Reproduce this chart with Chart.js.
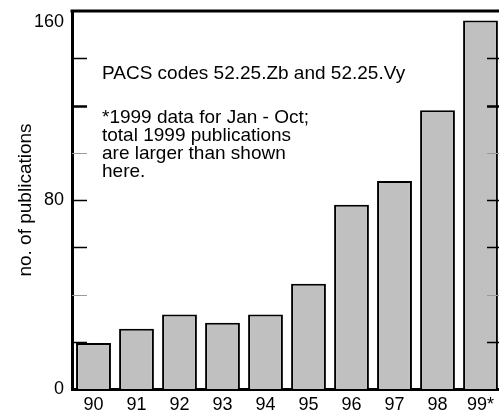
<!DOCTYPE html>
<html>
<head>
<meta charset="utf-8">
<script src="https://cdn.jsdelivr.net/npm/chart.js@4/dist/chart.umd.min.js"></script>
<style>
  html, body { margin: 0; padding: 0; background: #fff; overflow: hidden; }
  #wrap { width: 505px; height: 413px; }
</style>
</head>
<body>
<div id="wrap"><canvas id="c" width="505" height="413"></canvas></div>
<script>
const categories = ['90', '91', '92', '93', '94', '95', '96', '97', '98', '99*'];
const publications = [19.5, 25.5, 31.5, 28, 31.5, 44.5, 78, 88, 118, 156];
const yLabelValues = [0, 80, 160];
const minorTickValues = [20, 40, 60, 80, 100, 120, 140];
const yTitle = 'no. of publications';
const noteTitle = 'PACS codes 52.25.Zb and 52.25.Vy';
const noteLines = ['*1999 data for Jan - Oct;', 'total 1999 publications', 'are larger than shown', 'here.'];

const FONT = '"Liberation Sans", Arial, Helvetica, sans-serif';

const decorPlugin = {
  id: 'decor',
  afterDatasetsDraw(chart) {
    const { ctx, chartArea } = chart;
    const y = chart.scales.y;
    ctx.save();
    ctx.strokeStyle = '#000';
    ctx.lineWidth = 3;
    ctx.beginPath();
    ctx.moveTo(chartArea.left - 1.5, chartArea.top);
    ctx.lineTo(chartArea.right + 1.5, chartArea.top);
    ctx.stroke();
    ctx.beginPath();
    ctx.moveTo(chartArea.right, chartArea.top);
    ctx.lineTo(chartArea.right, chartArea.bottom);
    ctx.stroke();
    minorTickValues.forEach(v => {
      const py = Math.round(y.getPixelForValue(v)) + 0.5;
      if (v === 40 || v === 100) { ctx.strokeStyle = '#9a9a9a'; ctx.lineWidth = 1; }
      else if (v === 120) { ctx.strokeStyle = '#000'; ctx.lineWidth = 2.5; }
      else { ctx.strokeStyle = '#000'; ctx.lineWidth = 1.5; }
      ctx.beginPath();
      ctx.moveTo(chartArea.left, py);
      ctx.lineTo(chartArea.left + 15, py);
      ctx.moveTo(chartArea.right, py);
      ctx.lineTo(chartArea.right - 15, py);
      ctx.stroke();
    });
    ctx.fillStyle = '#000';
    ctx.font = '19px ' + FONT;
    ctx.textAlign = 'left';
    ctx.textBaseline = 'alphabetic';
    const tx = chartArea.left + 30;
    ctx.fillText(noteTitle, tx, chartArea.top + 68);
    noteLines.forEach((line, i) => {
      ctx.fillText(line, tx, chartArea.top + 112 + i * 18);
    });
    ctx.restore();
  }
};

new Chart(document.getElementById('c'), {
  type: 'bar',
  data: {
    labels: categories,
    datasets: [{
      data: publications,
      backgroundColor: '#c0c0c0',
      borderColor: '#000',
      borderWidth: 2,
      categoryPercentage: 1.0,
      barPercentage: 0.81
    }]
  },
  options: {
    responsive: false,
    animation: false,
    devicePixelRatio: 1,
    layout: { padding: { top: 11, right: 3, left: 0, bottom: 0 } },
    plugins: { legend: { display: false }, tooltip: { enabled: false } },
    scales: {
      x: {
        grid: { display: false, drawTicks: false },
        border: { display: true, color: '#000', width: 3 },
        ticks: { color: '#000', font: { family: FONT, size: 18 }, padding: 5, maxRotation: 0, autoSkip: false },
        afterFit(scale) { scale.height = 24; scale.paddingLeft = 0; scale.paddingRight = 0; }
      },
      y: {
        min: 0,
        max: 160,
        grid: { display: false, drawTicks: false },
        border: { display: true, color: '#000', width: 3 },
        afterBuildTicks(scale) { scale.ticks = yLabelValues.map(v => ({ value: v })); },
        ticks: {
          color: '#000',
          font: { family: FONT, size: 18 },
          padding: 8,
          callback: (v) => (v === 160 ? ['', String(v)] : String(v))
        },
        title: {
          display: true,
          text: yTitle,
          color: '#000',
          font: { family: FONT, size: 19 },
          padding: { top: 14, bottom: 0 }
        },
        afterFit(scale) { scale.width = 72; scale.paddingTop = 0; scale.paddingBottom = 0; }
      }
    }
  },
  plugins: [decorPlugin]
});
</script>
</body>
</html>
